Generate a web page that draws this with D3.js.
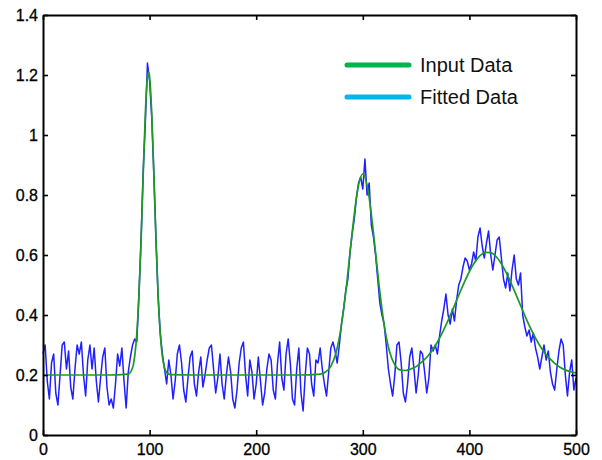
<!DOCTYPE html>
<html>
<head>
<meta charset="utf-8">
<script src="https://cdn.jsdelivr.net/npm/d3@7"></script>
<style>
  body { margin: 0; background: #fff; }
  svg { display: block; }
</style>
</head>
<body>
<svg id="drawing_region"></svg>
<script>
// x ticks and y ticks
const xTicks = [0, 100, 200, 300, 400, 500];
const yTicks = [0, 0.2, 0.4, 0.6, 0.8, 1, 1.2, 1.4];
const yTickLabels = ["0", "0.2", "0.4", "0.6", "0.8", "1", "1.2", "1.4"];

// noisy input signal, one value every 2 samples (x = 0, 2, ..., 500)
const inputStep = 2;
const inputValues = [
    0.27, 0.30, 0.18, 0.12, 0.24, 0.27, 0.14, 0.10, 0.20, 0.30,
    0.31, 0.22, 0.28, 0.16, 0.12, 0.22, 0.30, 0.27, 0.31, 0.20,
    0.13, 0.25, 0.30, 0.22, 0.29, 0.18, 0.11, 0.19, 0.26, 0.29,
    0.16, 0.10, 0.12, 0.09, 0.17, 0.27, 0.23, 0.29, 0.18, 0.09,
    0.21, 0.26, 0.30, 0.32, 0.31, 0.47, 0.65, 0.88, 1.04, 1.24,
    1.18, 1.06, 0.87, 0.65, 0.46, 0.34, 0.27, 0.22, 0.17, 0.25,
    0.20, 0.12, 0.18, 0.27, 0.30, 0.24, 0.15, 0.11, 0.19, 0.26,
    0.28, 0.17, 0.13, 0.21, 0.26, 0.16, 0.20, 0.25, 0.29, 0.30,
    0.22, 0.14, 0.19, 0.27, 0.17, 0.12, 0.20, 0.26, 0.21, 0.12,
    0.09, 0.15, 0.24, 0.29, 0.31, 0.20, 0.13, 0.25, 0.21, 0.12,
    0.17, 0.26, 0.18, 0.10, 0.14, 0.22, 0.27, 0.25, 0.15, 0.12,
    0.24, 0.31, 0.19, 0.15, 0.27, 0.32, 0.24, 0.12, 0.10, 0.22,
    0.29, 0.14, 0.08, 0.20, 0.29, 0.27, 0.17, 0.13, 0.25, 0.24,
    0.29, 0.22, 0.17, 0.13, 0.21, 0.29, 0.31, 0.28, 0.24, 0.30,
    0.37, 0.42, 0.48, 0.52, 0.61, 0.67, 0.72, 0.79, 0.84, 0.86,
    0.82, 0.92, 0.80, 0.84, 0.70, 0.66, 0.60, 0.52, 0.44, 0.40,
    0.37, 0.30, 0.22, 0.17, 0.13, 0.20, 0.30, 0.31, 0.24, 0.14,
    0.11, 0.17, 0.26, 0.29, 0.22, 0.14, 0.20, 0.28, 0.27, 0.21,
    0.14, 0.19, 0.30, 0.28, 0.30, 0.27, 0.33, 0.38, 0.42, 0.47,
    0.40, 0.37, 0.42, 0.38, 0.45, 0.50, 0.52, 0.56, 0.59, 0.58,
    0.55, 0.57, 0.61, 0.58, 0.66, 0.69, 0.63, 0.59, 0.64, 0.68,
    0.60, 0.55, 0.60, 0.65, 0.66, 0.59, 0.52, 0.49, 0.54, 0.48,
    0.55, 0.60, 0.52, 0.50, 0.54, 0.40, 0.36, 0.33, 0.35, 0.31,
    0.34, 0.29, 0.26, 0.22, 0.26, 0.30, 0.25, 0.28, 0.21, 0.17,
    0.15, 0.22, 0.28, 0.32, 0.30, 0.20, 0.13, 0.21, 0.25, 0.15,
    0.19
];

// smooth fitted curve
const fitX = [
    0, 20, 40, 60, 80, 84, 86, 88, 90, 92, 94, 96, 98, 99, 100,
    102, 104, 106, 108, 110, 112, 114, 116, 120, 140, 160, 180, 200, 220, 240,
    260, 265, 270, 275, 280, 285, 290, 295, 300, 305, 310, 315, 320, 325, 330,
    335, 340, 345, 350, 355, 360, 365, 370, 375, 380, 385, 390, 395, 400, 405,
    410, 415, 420, 425, 430, 435, 440, 445, 450, 455, 460, 465, 470, 475, 480,
    485, 490, 495, 500
];
const fitY = [
    0.200, 0.200, 0.200, 0.200, 0.203, 0.224, 0.262, 0.337, 0.465, 0.649, 0.868, 1.071, 1.194, 1.210, 1.194,
    1.071, 0.868, 0.649, 0.465, 0.337, 0.262, 0.224, 0.208, 0.201, 0.200, 0.200, 0.200, 0.200, 0.200, 0.200,
    0.203, 0.210, 0.229, 0.276, 0.367, 0.507, 0.674, 0.814, 0.870, 0.814, 0.674, 0.507, 0.368, 0.279, 0.234,
    0.217, 0.215, 0.220, 0.228, 0.242, 0.259, 0.282, 0.310, 0.344, 0.382, 0.423, 0.466, 0.507, 0.545, 0.576,
    0.598, 0.609, 0.608, 0.595, 0.571, 0.538, 0.499, 0.457, 0.415, 0.374, 0.337, 0.304, 0.277, 0.256, 0.239,
    0.226, 0.217, 0.211, 0.207
];

const legendLabels = ["Input Data", "Fitted Data"];
const legendColors = ["#00b44c", "#00b4f0"];

class FitChart {
    constructor(config) {
        this.config = {
            parent: config.parent,
            width: config.width || 602,
            height: config.height || 460,
            margin: config.margin || { top: 15, right: 26, bottom: 25, left: 43 }
        };
        this.init();
    }

    init() {
        let self = this;

        self.svg = d3.select(self.config.parent)
            .attr('width', self.config.width)
            .attr('height', self.config.height);

        self.chart = self.svg.append('g')
            .attr('transform', `translate(${self.config.margin.left}, ${self.config.margin.top})`);

        self.inner_width = self.config.width - self.config.margin.left - self.config.margin.right;
        self.inner_height = self.config.height - self.config.margin.top - self.config.margin.bottom;

        self.xscale = d3.scaleLinear()
            .domain([0, 500])
            .range([0, self.inner_width]);

        self.yscale = d3.scaleLinear()
            .domain([0, 1.4])
            .range([self.inner_height, 0]);

        self.input = inputValues.map((v, i) => ({ x: i * inputStep, y: v }));
        self.fit = fitX.map((x, i) => ({ x: x, y: fitY[i] }));
    }

    render() {
        let self = this;

        const line = d3.line()
            .x(d => self.xscale(d.x))
            .y(d => self.yscale(d.y));

        self.chart.append('path')
            .datum(self.input)
            .attr('fill', 'none')
            .attr('stroke', '#1f1fff')
            .attr('stroke-width', 1.5)
            .attr('stroke-linejoin', 'round')
            .attr('d', line);

        self.chart.append('path')
            .datum(self.fit)
            .attr('fill', 'none')
            .attr('stroke', '#1c9a26')
            .attr('stroke-width', 1.7)
            .attr('d', line.curve(d3.curveMonotoneX));

        // axes on all four sides, ticks pointing inward
        const font = "'Liberation Sans', Arial, sans-serif";

        const xaxis = d3.axisBottom(self.xscale)
            .tickValues(xTicks).tickSize(-5).tickSizeOuter(0).tickPadding(9);
        const yaxis = d3.axisLeft(self.yscale)
            .tickValues(yTicks).tickSize(-5).tickSizeOuter(0).tickPadding(5)
            .tickFormat((d, i) => yTickLabels[i]);
        const xaxis_top = d3.axisTop(self.xscale)
            .tickValues(xTicks).tickSize(-5).tickSizeOuter(0).tickFormat('');
        const yaxis_right = d3.axisRight(self.yscale)
            .tickValues(yTicks).tickSize(-5).tickSizeOuter(0).tickFormat('');

        self.chart.append('g')
            .attr('transform', `translate(0, ${self.inner_height})`)
            .call(xaxis);
        self.chart.append('g').call(yaxis);
        self.chart.append('g').call(xaxis_top);
        self.chart.append('g')
            .attr('transform', `translate(${self.inner_width}, 0)`)
            .call(yaxis_right);

        self.chart.selectAll('.domain')
            .attr('stroke', '#000')
            .attr('stroke-width', 2);
        self.chart.selectAll('.tick line')
            .attr('stroke', '#000')
            .attr('stroke-width', 1.6);
        self.chart.selectAll('.tick text')
            .attr('fill', '#000')
            .attr('font-family', font)
            .attr('font-size', '16px')
            .attr('stroke', '#000')
            .attr('stroke-width', 0.3);

        // legend
        const legend = self.svg.append('g');
        legendLabels.forEach((label, i) => {
            const ly = 65 + i * 32;
            legend.append('line')
                .attr('x1', 347).attr('x2', 409)
                .attr('y1', ly).attr('y2', ly)
                .attr('stroke', legendColors[i])
                .attr('stroke-width', 5)
                .attr('stroke-linecap', 'round');
            legend.append('text')
                .attr('x', 420)
                .attr('y', ly + 7)
                .attr('fill', '#111')
                .attr('font-family', font)
                .attr('font-size', '20px')
                .text(label);
        });
    }
}

const chart = new FitChart({
    parent: '#drawing_region',
    width: 602,
    height: 460,
    margin: { top: 15, right: 26, bottom: 25, left: 43 }
});
chart.render();
</script>
</body>
</html>
